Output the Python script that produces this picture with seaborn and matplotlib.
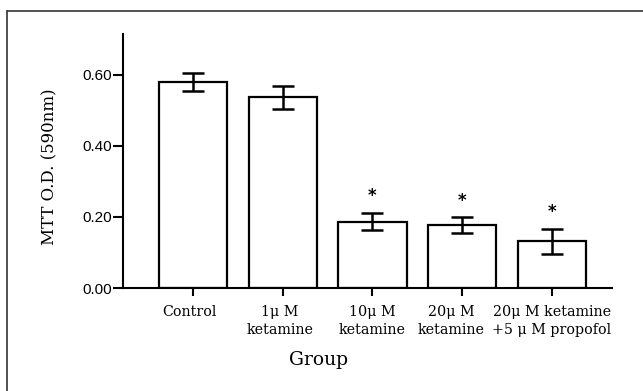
import numpy as np
import matplotlib
matplotlib.use("Agg")
import matplotlib.pyplot as plt
import matplotlib.transforms as mtransforms
from matplotlib.lines import Line2D
import seaborn as sns

groups = ["Control", "1\u03bc M\nketamine", "10\u03bc M\nketamine",
          "20\u03bc M\nketamine", "20\u03bc M ketamine\n+5 \u03bc M propofol"]
means = [0.580, 0.537, 0.187, 0.177, 0.131]
sem = [0.025, 0.033, 0.024, 0.022, 0.035]
signif = [False, False, True, True, True]
label_shift_px = [-4, -3, 0, -11, 0]

sns.set_style("ticks")
plt.rcParams["font.family"] = ["DejaVu Serif"]
plt.rcParams["text.color"] = "black"
plt.rcParams["axes.labelcolor"] = "black"
plt.rcParams["xtick.color"] = "black"
plt.rcParams["ytick.color"] = "black"
plt.rcParams["axes.edgecolor"] = "black"

fig = plt.figure(figsize=(6.43, 3.91), dpi=100)
ax = fig.add_axes([0.1913, 0.2634, 0.7605, 0.6496])

sns.barplot(x=groups, y=means, ax=ax, color="white", edgecolor="black",
            linewidth=1.6, width=0.76, errorbar=None)
x = np.arange(len(groups))
ax.errorbar(x, means, yerr=sem, fmt="none", ecolor="black",
            elinewidth=1.8, capsize=7.9, capthick=1.8)

for xi, m, e, s in zip(x, means, sem, signif):
    if s:
        ax.text(xi, m + e + 0.022, "*", ha="center", va="bottom",
                fontsize=12, fontweight="bold", family="DejaVu Sans")

ax.set_xlim(-0.78, 4.67)
ax.set_ylim(0, 0.715)
ax.set_yticks([0.0, 0.2, 0.4, 0.6])
ax.set_yticklabels(["%.2f" % v for v in [0.0, 0.2, 0.4, 0.6]],
                   family="Liberation Sans", fontsize=11)
ax.tick_params(axis="y", length=7, width=1.5, pad=1)
ax.tick_params(axis="x", length=6, width=1.5, pad=6)
for lab, dx in zip(ax.get_xticklabels(), label_shift_px):
    lab.set_fontsize(10.3)
    lab.set_linespacing(1.35)
    lab.set_transform(lab.get_transform() +
                      mtransforms.ScaledTranslation(dx / 100, 0, fig.dpi_scale_trans))

for side in ["top", "right"]:
    ax.spines[side].set_visible(False)
for side in ["left", "bottom"]:
    ax.spines[side].set_linewidth(1.5)

ax.set_ylabel("MTT O.D. (590nm)", fontsize=12)
ax.yaxis.set_label_coords(-0.149, 0.476)
ax.yaxis.label.set_va("center")
ax.set_xlabel("Group", fontsize=13.5)
ax.xaxis.set_label_coords(0.399, -0.283)
ax.xaxis.label.set_va("center")

fig.add_artist(Line2D([7 / 643, 1], [1 - 11 / 391, 1 - 11 / 391],
                      transform=fig.transFigure, color="#333333", lw=1.2))
fig.add_artist(Line2D([7 / 643, 7 / 643], [0, 1 - 11 / 391],
                      transform=fig.transFigure, color="#333333", lw=1.2))

fig.savefig("out.png", dpi=100)
